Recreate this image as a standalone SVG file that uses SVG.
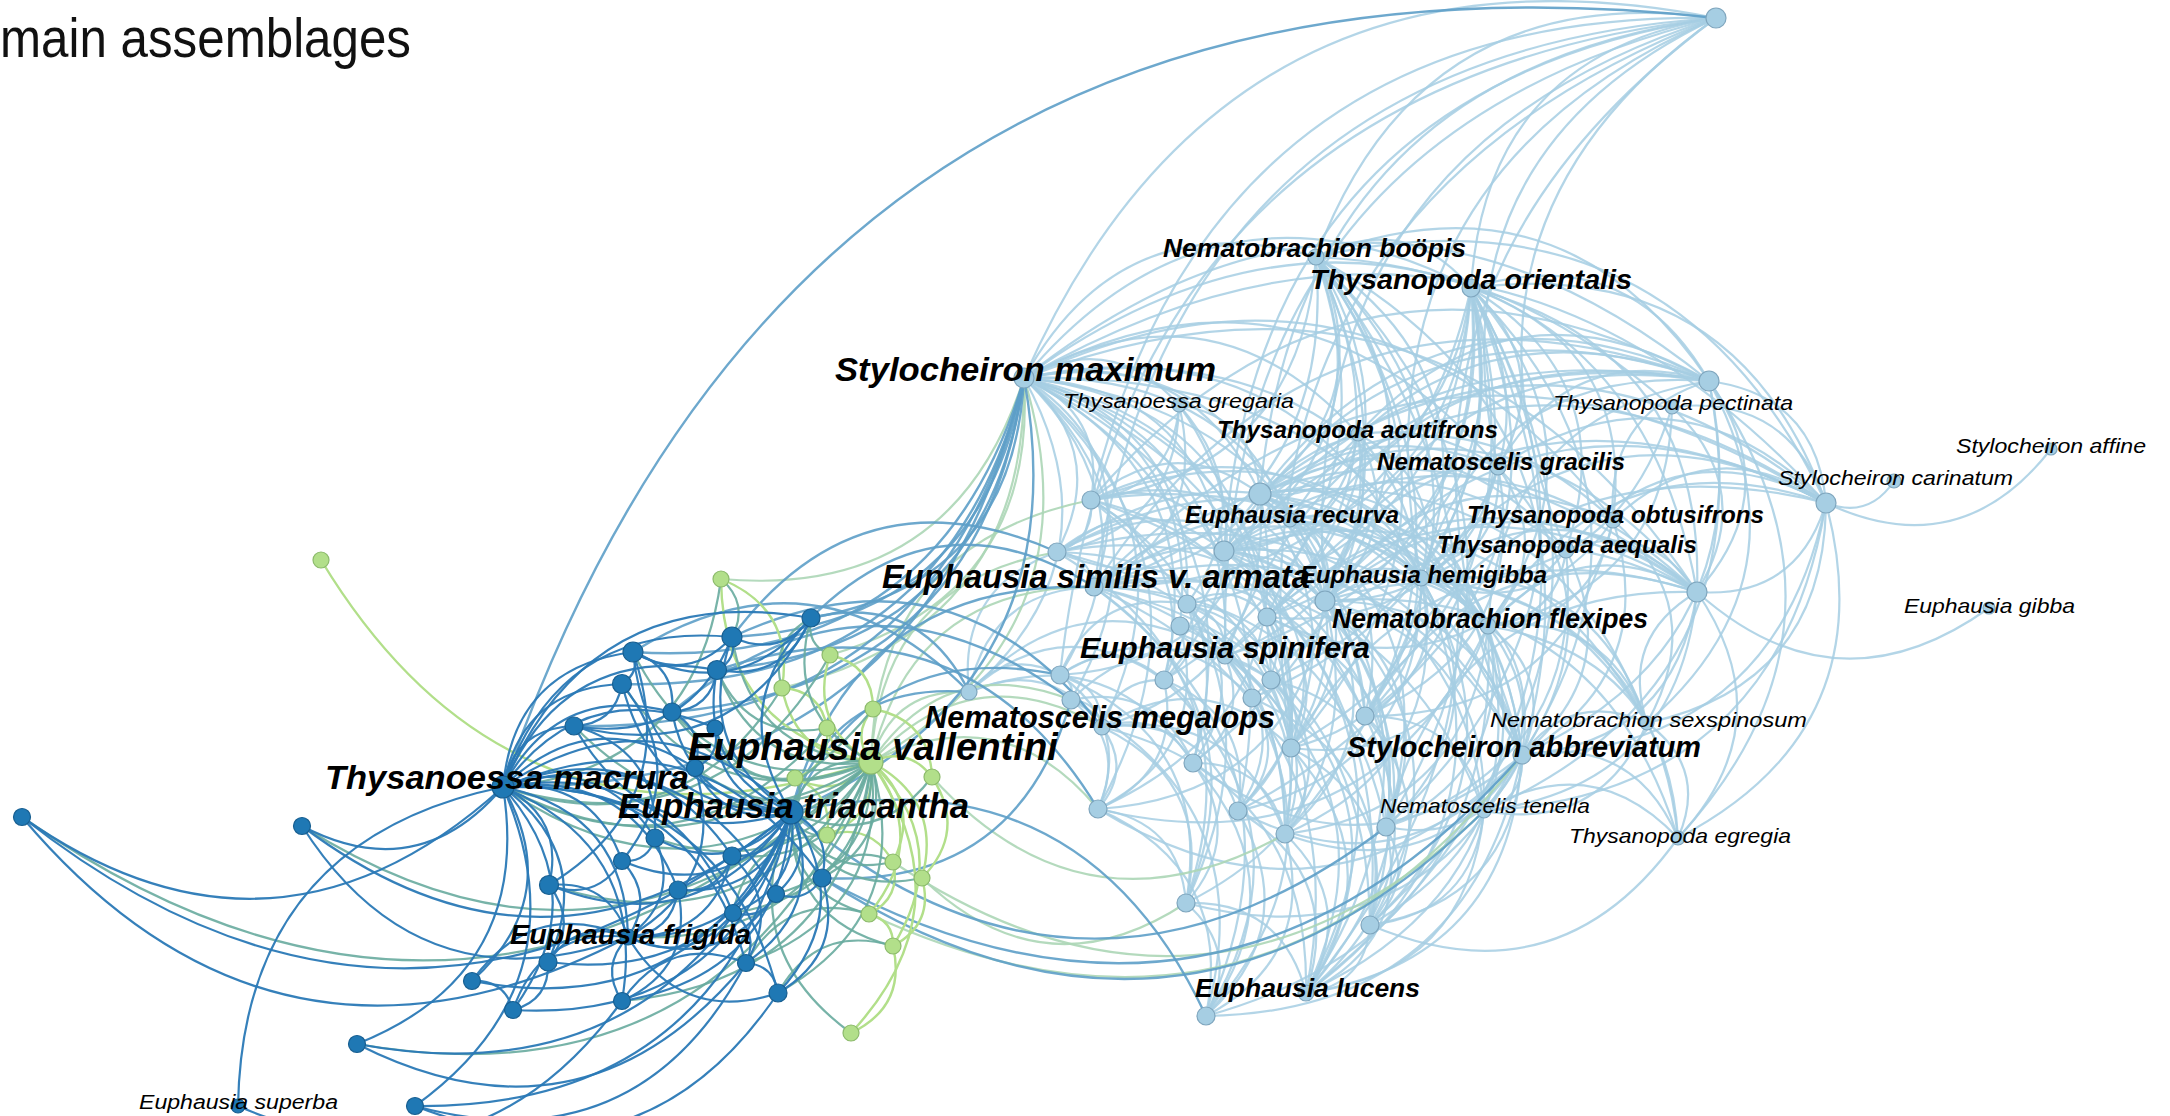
<svg xmlns="http://www.w3.org/2000/svg" xmlns:xlink="http://www.w3.org/1999/xlink" width="2170" height="1116" viewBox="0 0 2170 1116">
<style>
.lb{stroke:#a6cee3;stroke-width:2.2;stroke-opacity:.85}
.db{stroke:#2a79b6;stroke-width:2.2;stroke-opacity:.95}
.dg{stroke:#68ab9f;stroke-width:2.2;stroke-opacity:.9}
.dl{stroke:#5d9ec8;stroke-width:2.4;stroke-opacity:.9}
.gl{stroke:#acd6b6;stroke-width:2.2;stroke-opacity:.9}
.gr{stroke:#b2df8a;stroke-width:2.4}
.nd circle{fill:#1f78b4;stroke:#185f91;stroke-width:1.2}
.ng circle{fill:#b2df8a;stroke:#8cba6c;stroke-width:1.2}
.nl circle{fill:#a6cee3;stroke:#7fa6be;stroke-width:1.2}
text{font-family:"Liberation Sans",Arial,sans-serif;font-style:italic;fill:#000}
.b{font-weight:bold}
.r{font-weight:normal}
.title{font-style:normal;font-size:56px;fill:#111}
</style>
<defs>
<path id="c" d="M0,0Q.5,-.4,1,0" fill="none" vector-effect="non-scaling-stroke"/>
</defs>
<text class="title" x="0" y="57" textLength="411" lengthAdjust="spacingAndGlyphs">main assemblages</text>
<g id="connectors">
<g class="lb">
<use href="#c" transform="matrix(692 -360 360 692 1024 378)"/>
<use href="#c" transform="matrix(625 -482 482 625 1091 500)"/>
<use href="#c" transform="matrix(622 -569 569 622 1094 587)"/>
<use href="#c" transform="matrix(456 -476 476 456 1260 494)"/>
<use href="#c" transform="matrix(492 -533 533 492 1224 551)"/>
<use href="#c" transform="matrix(391 -583 583 391 1325 601)"/>
<use href="#c" transform="matrix(295 -560 560 295 1421 578)"/>
<use href="#c" transform="matrix(491 -638 638 491 1225 656)"/>
<use href="#c" transform="matrix(656 -657 657 656 1060 675)"/>
<use href="#c" transform="matrix(425 -730 730 425 1291 748)"/>
<use href="#c" transform="matrix(245 -270 270 245 1471 288)"/>
<use href="#c" transform="matrix(400 -239 239 400 1316 257)"/>
<use href="#c" transform="matrix(218 -449 449 218 1498 467)"/>
<use href="#c" transform="matrix(150 -532 532 150 1566 550)"/>
<use href="#c" transform="matrix(194 -737 737 194 1522 755)"/>
<use href="#c" transform="matrix(292 -121 121 292 1024 378)"/>
<use href="#c" transform="matrix(447 -90 90 447 1024 378)"/>
<use href="#c" transform="matrix(155 27 -27 155 1024 378)"/>
<use href="#c" transform="matrix(685 3 -3 685 1024 378)"/>
<use href="#c" transform="matrix(648 29 -29 648 1024 378)"/>
<use href="#c" transform="matrix(334 56 -56 334 1024 378)"/>
<use href="#c" transform="matrix(474 89 -89 474 1024 378)"/>
<use href="#c" transform="matrix(802 125 -125 802 1024 378)"/>
<use href="#c" transform="matrix(67 122 -122 67 1024 378)"/>
<use href="#c" transform="matrix(236 116 -116 236 1024 378)"/>
<use href="#c" transform="matrix(266 142 -142 266 1024 378)"/>
<use href="#c" transform="matrix(33 174 -174 33 1024 378)"/>
<use href="#c" transform="matrix(200 173 -173 200 1024 378)"/>
<use href="#c" transform="matrix(70 209 -209 70 1024 378)"/>
<use href="#c" transform="matrix(673 214 -214 673 1024 378)"/>
<use href="#c" transform="matrix(301 223 -223 301 1024 378)"/>
<use href="#c" transform="matrix(163 226 -226 163 1024 378)"/>
<use href="#c" transform="matrix(156 248 -248 156 1024 378)"/>
<use href="#c" transform="matrix(243 239 -239 243 1024 378)"/>
<use href="#c" transform="matrix(201 278 -278 201 1024 378)"/>
<use href="#c" transform="matrix(-55 314 -314 -55 1024 378)"/>
<use href="#c" transform="matrix(36 297 -297 36 1024 378)"/>
<use href="#c" transform="matrix(47 322 -322 47 1024 378)"/>
<use href="#c" transform="matrix(140 302 -302 140 1024 378)"/>
<use href="#c" transform="matrix(247 302 -302 247 1024 378)"/>
<use href="#c" transform="matrix(78 349 -349 78 1024 378)"/>
<use href="#c" transform="matrix(267 370 -370 267 1024 378)"/>
<use href="#c" transform="matrix(169 385 -385 169 1024 378)"/>
<use href="#c" transform="matrix(74 431 -431 74 1024 378)"/>
<use href="#c" transform="matrix(214 433 -433 214 1024 378)"/>
<use href="#c" transform="matrix(498 377 -377 498 1024 378)"/>
<use href="#c" transform="matrix(261 456 -456 261 1024 378)"/>
<use href="#c" transform="matrix(341 338 -338 341 1024 378)"/>
<use href="#c" transform="matrix(397 200 -200 397 1024 378)"/>
<use href="#c" transform="matrix(464 248 -248 464 1024 378)"/>
<use href="#c" transform="matrix(589 142 -142 589 1024 378)"/>
<use href="#c" transform="matrix(155 31 -31 155 1316 257)"/>
<use href="#c" transform="matrix(393 124 -124 393 1316 257)"/>
<use href="#c" transform="matrix(510 246 -246 510 1316 257)"/>
<use href="#c" transform="matrix(381 335 -335 381 1316 257)"/>
<use href="#c" transform="matrix(-56 237 -237 -56 1316 257)"/>
<use href="#c" transform="matrix(-92 294 -294 -92 1316 257)"/>
<use href="#c" transform="matrix(9 344 -344 9 1316 257)"/>
<use href="#c" transform="matrix(-49 360 -360 -49 1316 257)"/>
<use href="#c" transform="matrix(-222 330 -330 -222 1316 257)"/>
<use href="#c" transform="matrix(-91 399 -399 -91 1316 257)"/>
<use href="#c" transform="matrix(-25 491 -491 -25 1316 257)"/>
<use href="#c" transform="matrix(-123 506 -506 -123 1316 257)"/>
<use href="#c" transform="matrix(206 498 -498 206 1316 257)"/>
<use href="#c" transform="matrix(-31 577 -577 -31 1316 257)"/>
<use href="#c" transform="matrix(-10 736 -736 -10 1316 257)"/>
<use href="#c" transform="matrix(-225 243 -243 -225 1316 257)"/>
<use href="#c" transform="matrix(-152 423 -423 -152 1316 257)"/>
<use href="#c" transform="matrix(105 321 -321 105 1316 257)"/>
<use href="#c" transform="matrix(49 459 -459 49 1316 257)"/>
<use href="#c" transform="matrix(70 570 -570 70 1316 257)"/>
<use href="#c" transform="matrix(238 93 -93 238 1471 288)"/>
<use href="#c" transform="matrix(355 215 -215 355 1471 288)"/>
<use href="#c" transform="matrix(226 304 -304 226 1471 288)"/>
<use href="#c" transform="matrix(-211 206 -206 -211 1471 288)"/>
<use href="#c" transform="matrix(-247 263 -263 -247 1471 288)"/>
<use href="#c" transform="matrix(-146 313 -313 -146 1471 288)"/>
<use href="#c" transform="matrix(-204 329 -329 -204 1471 288)"/>
<use href="#c" transform="matrix(-200 392 -392 -200 1471 288)"/>
<use href="#c" transform="matrix(-219 410 -410 -219 1471 288)"/>
<use href="#c" transform="matrix(-106 428 -428 -106 1471 288)"/>
<use href="#c" transform="matrix(17 338 -338 17 1471 288)"/>
<use href="#c" transform="matrix(51 467 -467 51 1471 288)"/>
<use href="#c" transform="matrix(-50 290 -290 -50 1471 288)"/>
<use href="#c" transform="matrix(95 262 -262 95 1471 288)"/>
<use href="#c" transform="matrix(-180 460 -460 -180 1471 288)"/>
<use href="#c" transform="matrix(-233 523 -523 -233 1471 288)"/>
<use href="#c" transform="matrix(-85 539 -539 -85 1471 288)"/>
<use href="#c" transform="matrix(-165 705 -705 -165 1471 288)"/>
<use href="#c" transform="matrix(-101 637 -637 -101 1471 288)"/>
<use href="#c" transform="matrix(27 179 -179 27 1471 288)"/>
<use href="#c" transform="matrix(-377 299 -299 -377 1471 288)"/>
<use href="#c" transform="matrix(-246 368 -368 -246 1471 288)"/>
<use href="#c" transform="matrix(-284 316 -316 -284 1471 288)"/>
<use href="#c" transform="matrix(142 232 -232 142 1471 288)"/>
<use href="#c" transform="matrix(117 122 -122 117 1709 381)"/>
<use href="#c" transform="matrix(-12 211 -211 -12 1709 381)"/>
<use href="#c" transform="matrix(449 -113 113 449 1260 494)"/>
<use href="#c" transform="matrix(485 -170 170 485 1224 551)"/>
<use href="#c" transform="matrix(384 -220 220 384 1325 601)"/>
<use href="#c" transform="matrix(442 -236 236 442 1267 617)"/>
<use href="#c" transform="matrix(615 -206 206 615 1094 587)"/>
<use href="#c" transform="matrix(618 -119 119 618 1091 500)"/>
<use href="#c" transform="matrix(545 -299 299 545 1164 680)"/>
<use href="#c" transform="matrix(221 -245 245 221 1488 626)"/>
<use href="#c" transform="matrix(-187 374 -374 -187 1709 381)"/>
<use href="#c" transform="matrix(288 -197 197 288 1421 578)"/>
<use href="#c" transform="matrix(96 -139 139 96 1613 520)"/>
<use href="#c" transform="matrix(211 -86 86 211 1498 467)"/>
<use href="#c" transform="matrix(419 -139 139 419 1290 520)"/>
<use href="#c" transform="matrix(351 -53 53 351 1358 434)"/>
<use href="#c" transform="matrix(154 96 -96 154 1672 407)"/>
<use href="#c" transform="matrix(484 -275 275 484 1225 656)"/>
<use href="#c" transform="matrix(-62 342 -342 -62 1709 381)"/>
<use href="#c" transform="matrix(-225 430 -430 -225 1709 381)"/>
<use href="#c" transform="matrix(-31 457 -457 -31 1709 381)"/>
<use href="#c" transform="matrix(-68 22 -22 -68 1894 481)"/>
<use href="#c" transform="matrix(-225 54 -54 -225 2051 449)"/>
<use href="#c" transform="matrix(-292 -16 16 -292 1989 608)"/>
<use href="#c" transform="matrix(-129 89 -89 -129 1826 503)"/>
<use href="#c" transform="matrix(566 9 -9 566 1260 494)"/>
<use href="#c" transform="matrix(602 -48 48 602 1224 551)"/>
<use href="#c" transform="matrix(501 -98 98 501 1325 601)"/>
<use href="#c" transform="matrix(405 -75 75 405 1421 578)"/>
<use href="#c" transform="matrix(338 -123 123 338 1488 626)"/>
<use href="#c" transform="matrix(328 36 -36 328 1498 467)"/>
<use href="#c" transform="matrix(213 -17 17 213 1613 520)"/>
<use href="#c" transform="matrix(260 -47 47 260 1566 550)"/>
<use href="#c" transform="matrix(-304 252 -252 -304 1826 503)"/>
<use href="#c" transform="matrix(559 -114 114 559 1267 617)"/>
<use href="#c" transform="matrix(732 -84 84 732 1094 587)"/>
<use href="#c" transform="matrix(461 -213 213 461 1365 716)"/>
<use href="#c" transform="matrix(-342 308 -308 -342 1826 503)"/>
<use href="#c" transform="matrix(-179 220 -220 -179 1826 503)"/>
<use href="#c" transform="matrix(-148 335 -335 -148 1826 503)"/>
<use href="#c" transform="matrix(437 98 -98 437 1260 494)"/>
<use href="#c" transform="matrix(473 41 -41 473 1224 551)"/>
<use href="#c" transform="matrix(372 -9 9 372 1325 601)"/>
<use href="#c" transform="matrix(430 -25 25 430 1267 617)"/>
<use href="#c" transform="matrix(276 14 -14 276 1421 578)"/>
<use href="#c" transform="matrix(209 -34 34 209 1488 626)"/>
<use href="#c" transform="matrix(-175 163 -163 -175 1697 592)"/>
<use href="#c" transform="matrix(50 -131 131 50 1647 723)"/>
<use href="#c" transform="matrix(-19 246 -246 -19 1697 592)"/>
<use href="#c" transform="matrix(332 -124 124 332 1365 716)"/>
<use href="#c" transform="matrix(311 -235 235 311 1386 827)"/>
<use href="#c" transform="matrix(406 -156 156 406 1291 748)"/>
<use href="#c" transform="matrix(472 -64 64 472 1225 656)"/>
<use href="#c" transform="matrix(603 5 -5 603 1094 587)"/>
<use href="#c" transform="matrix(-213 219 -219 -213 1697 592)"/>
<use href="#c" transform="matrix(426 -88 88 426 1271 680)"/>
<use href="#c" transform="matrix(131 42 -42 131 1566 550)"/>
<use href="#c" transform="matrix(169 -6 6 169 1091 500)"/>
<use href="#c" transform="matrix(133 51 -51 133 1091 500)"/>
<use href="#c" transform="matrix(234 101 -101 234 1091 500)"/>
<use href="#c" transform="matrix(330 78 -78 330 1091 500)"/>
<use href="#c" transform="matrix(397 126 -126 397 1091 500)"/>
<use href="#c" transform="matrix(431 255 -255 431 1091 500)"/>
<use href="#c" transform="matrix(-34 52 -52 -34 1091 500)"/>
<use href="#c" transform="matrix(200 248 -248 200 1091 500)"/>
<use href="#c" transform="matrix(102 263 -263 102 1091 500)"/>
<use href="#c" transform="matrix(73 180 -180 73 1091 500)"/>
<use href="#c" transform="matrix(279 425 -425 279 1091 500)"/>
<use href="#c" transform="matrix(95 403 -403 95 1091 500)"/>
<use href="#c" transform="matrix(65 107 -107 65 1260 494)"/>
<use href="#c" transform="matrix(161 84 -84 161 1260 494)"/>
<use href="#c" transform="matrix(228 132 -132 228 1260 494)"/>
<use href="#c" transform="matrix(262 261 -261 262 1260 494)"/>
<use href="#c" transform="matrix(105 222 -222 105 1260 494)"/>
<use href="#c" transform="matrix(31 254 -254 31 1260 494)"/>
<use href="#c" transform="matrix(-22 317 -317 -22 1260 494)"/>
<use href="#c" transform="matrix(46 499 -499 46 1260 494)"/>
<use href="#c" transform="matrix(126 333 -333 126 1260 494)"/>
<use href="#c" transform="matrix(387 229 -229 387 1260 494)"/>
<use href="#c" transform="matrix(238 -27 27 238 1260 494)"/>
<use href="#c" transform="matrix(306 56 -56 306 1260 494)"/>
<use href="#c" transform="matrix(353 26 -26 353 1260 494)"/>
<use href="#c" transform="matrix(-203 58 -58 -203 1260 494)"/>
<use href="#c" transform="matrix(-200 181 -181 -200 1260 494)"/>
<use href="#c" transform="matrix(-158 233 -233 -158 1260 494)"/>
<use href="#c" transform="matrix(-162 315 -315 -162 1260 494)"/>
<use href="#c" transform="matrix(37 35 -35 37 1057 552)"/>
<use href="#c" transform="matrix(167 -1 1 167 1057 552)"/>
<use href="#c" transform="matrix(268 49 -49 268 1057 552)"/>
<use href="#c" transform="matrix(364 26 -26 364 1057 552)"/>
<use href="#c" transform="matrix(431 74 -74 431 1057 552)"/>
<use href="#c" transform="matrix(234 196 -196 234 1057 552)"/>
<use href="#c" transform="matrix(308 164 -164 308 1057 552)"/>
<use href="#c" transform="matrix(465 203 -203 465 1057 552)"/>
<use href="#c" transform="matrix(129 351 -351 129 1057 552)"/>
<use href="#c" transform="matrix(228 282 -282 228 1057 552)"/>
<use href="#c" transform="matrix(101 50 -50 101 1224 551)"/>
<use href="#c" transform="matrix(197 27 -27 197 1224 551)"/>
<use href="#c" transform="matrix(264 75 -75 264 1224 551)"/>
<use href="#c" transform="matrix(298 204 -204 298 1224 551)"/>
<use href="#c" transform="matrix(67 197 -197 67 1224 551)"/>
<use href="#c" transform="matrix(141 165 -165 141 1224 551)"/>
<use href="#c" transform="matrix(260 260 -260 260 1224 551)"/>
<use href="#c" transform="matrix(162 276 -276 162 1224 551)"/>
<use href="#c" transform="matrix(82 442 -442 82 1224 551)"/>
<use href="#c" transform="matrix(146 374 -374 146 1224 551)"/>
<use href="#c" transform="matrix(423 172 -172 423 1224 551)"/>
<use href="#c" transform="matrix(342 -1 1 342 1224 551)"/>
<use href="#c" transform="matrix(274 -84 84 274 1224 551)"/>
<use href="#c" transform="matrix(231 14 -14 231 1094 587)"/>
<use href="#c" transform="matrix(327 -9 9 327 1094 587)"/>
<use href="#c" transform="matrix(394 39 -39 394 1094 587)"/>
<use href="#c" transform="matrix(428 168 -168 428 1094 587)"/>
<use href="#c" transform="matrix(271 129 -129 271 1094 587)"/>
<use href="#c" transform="matrix(197 161 -161 197 1094 587)"/>
<use href="#c" transform="matrix(191 247 -247 191 1094 587)"/>
<use href="#c" transform="matrix(292 240 -240 292 1094 587)"/>
<use href="#c" transform="matrix(390 224 -224 390 1094 587)"/>
<use href="#c" transform="matrix(212 406 -406 212 1094 587)"/>
<use href="#c" transform="matrix(112 429 -429 112 1094 587)"/>
<use href="#c" transform="matrix(92 316 -316 92 1094 587)"/>
<use href="#c" transform="matrix(276 338 -338 276 1094 587)"/>
<use href="#c" transform="matrix(96 -23 23 96 1325 601)"/>
<use href="#c" transform="matrix(163 25 -25 163 1325 601)"/>
<use href="#c" transform="matrix(197 154 -154 197 1325 601)"/>
<use href="#c" transform="matrix(322 122 -122 322 1325 601)"/>
<use href="#c" transform="matrix(353 237 -237 353 1325 601)"/>
<use href="#c" transform="matrix(159 210 -210 159 1325 601)"/>
<use href="#c" transform="matrix(61 226 -226 61 1325 601)"/>
<use href="#c" transform="matrix(-19 392 -392 -19 1325 601)"/>
<use href="#c" transform="matrix(45 324 -324 45 1325 601)"/>
<use href="#c" transform="matrix(-40 233 -233 -40 1325 601)"/>
<use href="#c" transform="matrix(-227 208 -208 -227 1325 601)"/>
<use href="#c" transform="matrix(-139 302 -302 -139 1325 601)"/>
<use href="#c" transform="matrix(173 -134 134 173 1325 601)"/>
<use href="#c" transform="matrix(288 -81 81 288 1325 601)"/>
<use href="#c" transform="matrix(67 48 -48 67 1421 578)"/>
<use href="#c" transform="matrix(101 177 -177 101 1421 578)"/>
<use href="#c" transform="matrix(-56 138 -138 -56 1421 578)"/>
<use href="#c" transform="matrix(-35 249 -249 -35 1421 578)"/>
<use href="#c" transform="matrix(226 145 -145 226 1421 578)"/>
<use href="#c" transform="matrix(257 260 -260 257 1421 578)"/>
<use href="#c" transform="matrix(-51 347 -347 -51 1421 578)"/>
<use href="#c" transform="matrix(-115 415 -415 -115 1421 578)"/>
<use href="#c" transform="matrix(-130 170 -170 -130 1421 578)"/>
<use href="#c" transform="matrix(-183 233 -233 -183 1421 578)"/>
<use href="#c" transform="matrix(-136 256 -256 -136 1421 578)"/>
<use href="#c" transform="matrix(34 129 -129 34 1488 626)"/>
<use href="#c" transform="matrix(159 97 -97 159 1488 626)"/>
<use href="#c" transform="matrix(190 212 -212 190 1488 626)"/>
<use href="#c" transform="matrix(-4 185 -185 -4 1488 626)"/>
<use href="#c" transform="matrix(-102 201 -201 -102 1488 626)"/>
<use href="#c" transform="matrix(-118 299 -299 -118 1488 626)"/>
<use href="#c" transform="matrix(-182 367 -367 -182 1488 626)"/>
<use href="#c" transform="matrix(-282 390 -390 -282 1488 626)"/>
<use href="#c" transform="matrix(-197 122 -122 -197 1488 626)"/>
<use href="#c" transform="matrix(-390 183 -183 -390 1488 626)"/>
<use href="#c" transform="matrix(-203 208 -208 -203 1488 626)"/>
<use href="#c" transform="matrix(-38 56 -56 -38 1522 755)"/>
<use href="#c" transform="matrix(156 83 -83 156 1522 755)"/>
<use href="#c" transform="matrix(125 -32 32 125 1522 755)"/>
<use href="#c" transform="matrix(-136 72 -72 -136 1522 755)"/>
<use href="#c" transform="matrix(-152 170 -170 -152 1522 755)"/>
<use href="#c" transform="matrix(-216 238 -238 -216 1522 755)"/>
<use href="#c" transform="matrix(-316 261 -261 -316 1522 755)"/>
<use href="#c" transform="matrix(-237 79 -79 -237 1522 755)"/>
<use href="#c" transform="matrix(-284 56 -56 -284 1522 755)"/>
<use href="#c" transform="matrix(-329 8 -8 -329 1522 755)"/>
<use href="#c" transform="matrix(-424 54 -54 -424 1522 755)"/>
<use href="#c" transform="matrix(-336 148 -148 -336 1522 755)"/>
<use href="#c" transform="matrix(-23 76 -76 -23 1187 604)"/>
<use href="#c" transform="matrix(80 13 -13 80 1187 604)"/>
<use href="#c" transform="matrix(84 76 -76 84 1187 604)"/>
<use href="#c" transform="matrix(38 52 -52 38 1187 604)"/>
<use href="#c" transform="matrix(104 144 -144 104 1187 604)"/>
<use href="#c" transform="matrix(6 159 -159 6 1187 604)"/>
<use href="#c" transform="matrix(45 30 -30 45 1180 626)"/>
<use href="#c" transform="matrix(72 72 -72 72 1180 626)"/>
<use href="#c" transform="matrix(105 208 -208 105 1180 626)"/>
<use href="#c" transform="matrix(-82 183 -183 -82 1180 626)"/>
<use href="#c" transform="matrix(-15 81 -81 -15 1267 617)"/>
<use href="#c" transform="matrix(24 131 -131 24 1267 617)"/>
<use href="#c" transform="matrix(-29 194 -194 -29 1267 617)"/>
<use href="#c" transform="matrix(119 210 -210 119 1267 617)"/>
<use href="#c" transform="matrix(66 92 -92 66 1225 656)"/>
<use href="#c" transform="matrix(-32 107 -107 -32 1225 656)"/>
<use href="#c" transform="matrix(13 155 -155 13 1225 656)"/>
<use href="#c" transform="matrix(60 178 -178 60 1225 656)"/>
<use href="#c" transform="matrix(81 337 -337 81 1225 656)"/>
<use href="#c" transform="matrix(-19 360 -360 -19 1225 656)"/>
<use href="#c" transform="matrix(29 83 -83 29 1164 680)"/>
<use href="#c" transform="matrix(-66 129 -129 -66 1164 680)"/>
<use href="#c" transform="matrix(74 131 -131 74 1164 680)"/>
<use href="#c" transform="matrix(42 336 -336 42 1164 680)"/>
<use href="#c" transform="matrix(20 68 -68 20 1271 680)"/>
<use href="#c" transform="matrix(14 154 -154 14 1271 680)"/>
<use href="#c" transform="matrix(115 147 -147 115 1271 680)"/>
<use href="#c" transform="matrix(35 313 -313 35 1271 680)"/>
<use href="#c" transform="matrix(-14 113 -113 -14 1252 698)"/>
<use href="#c" transform="matrix(118 227 -227 118 1252 698)"/>
<use href="#c" transform="matrix(21 111 -111 21 1365 716)"/>
<use href="#c" transform="matrix(5 209 -209 5 1365 716)"/>
<use href="#c" transform="matrix(119 95 -95 119 1365 716)"/>
<use href="#c" transform="matrix(-59 277 -277 -59 1365 716)"/>
<use href="#c" transform="matrix(-6 86 -86 -6 1291 748)"/>
<use href="#c" transform="matrix(79 177 -177 79 1291 748)"/>
<use href="#c" transform="matrix(15 245 -245 15 1291 748)"/>
<use href="#c" transform="matrix(-7 140 -140 -7 1193 763)"/>
<use href="#c" transform="matrix(13 253 -253 13 1193 763)"/>
<use href="#c" transform="matrix(92 71 -71 92 1193 763)"/>
<use href="#c" transform="matrix(88 94 -94 88 1098 809)"/>
<use href="#c" transform="matrix(108 207 -207 108 1098 809)"/>
<use href="#c" transform="matrix(-32 205 -205 -32 1238 811)"/>
<use href="#c" transform="matrix(68 182 -182 68 1238 811)"/>
<use href="#c" transform="matrix(21 159 -159 21 1285 834)"/>
<use href="#c" transform="matrix(-79 182 -182 -79 1285 834)"/>
<use href="#c" transform="matrix(-80 166 -166 -80 1386 827)"/>
<use href="#c" transform="matrix(-16 98 -98 -16 1386 827)"/>
<use href="#c" transform="matrix(120 90 -90 120 1186 903)"/>
<use href="#c" transform="matrix(20 113 -113 20 1186 903)"/>
<use href="#c" transform="matrix(-64 68 -68 -64 1370 925)"/>
<use href="#c" transform="matrix(-308 87 -87 -308 1678 838)"/>
<use href="#c" transform="matrix(194 27 -27 194 1484 811)"/>
<use href="#c" transform="matrix(-114 114 -114 -114 1484 811)"/>
<use href="#c" transform="matrix(-178 182 -182 -178 1484 811)"/>
<use href="#c" transform="matrix(91 -17 17 91 969 692)"/>
<use href="#c" transform="matrix(125 -105 105 125 969 692)"/>
<use href="#c" transform="matrix(195 -12 12 195 969 692)"/>
<use href="#c" transform="matrix(133 35 -35 133 969 692)"/>
<use href="#c" transform="matrix(224 71 -71 224 969 692)"/>
<use href="#c" transform="matrix(88 -140 140 88 969 692)"/>
<use href="#c" transform="matrix(256 -36 36 256 969 692)"/>
<use href="#c" transform="matrix(11 25 -25 11 1060 675)"/>
<use href="#c" transform="matrix(42 52 -52 42 1060 675)"/>
<use href="#c" transform="matrix(104 5 -5 104 1060 675)"/>
<use href="#c" transform="matrix(127 -71 71 127 1060 675)"/>
<use href="#c" transform="matrix(38 134 -134 38 1060 675)"/>
<use href="#c" transform="matrix(126 228 -228 126 1060 675)"/>
<use href="#c" transform="matrix(192 23 -23 192 1060 675)"/>
<use href="#c" transform="matrix(31 27 -27 31 1071 700)"/>
<use href="#c" transform="matrix(122 63 -63 122 1071 700)"/>
<use href="#c" transform="matrix(27 109 -109 27 1071 700)"/>
<use href="#c" transform="matrix(200 -20 20 200 1071 700)"/>
<use href="#c" transform="matrix(135 316 -316 135 1071 700)"/>
<use href="#c" transform="matrix(62 -47 47 62 1102 727)"/>
<use href="#c" transform="matrix(91 36 -36 91 1102 727)"/>
<use href="#c" transform="matrix(-4 82 -82 -4 1102 727)"/>
<use href="#c" transform="matrix(136 84 -84 136 1102 727)"/>
<use href="#c" transform="matrix(84 176 -176 84 1102 727)"/>
<use href="#c" transform="matrix(189 21 -21 189 1102 727)"/>
<use href="#c" transform="matrix(183 107 -107 183 1102 727)"/>
<use href="#c" transform="matrix(204 266 -266 204 1102 727)"/>
<use href="#c" transform="matrix(-88 95 -95 -88 1179 405)"/>
<use href="#c" transform="matrix(81 89 -89 81 1179 405)"/>
<use href="#c" transform="matrix(-122 147 -147 -122 1179 405)"/>
<use href="#c" transform="matrix(-85 182 -182 -85 1179 405)"/>
<use href="#c" transform="matrix(8 199 -199 8 1179 405)"/>
<use href="#c" transform="matrix(-15 275 -275 -15 1179 405)"/>
<use href="#c" transform="matrix(-98 60 -60 -98 1358 434)"/>
<use href="#c" transform="matrix(-134 117 -117 -134 1358 434)"/>
<use href="#c" transform="matrix(-33 167 -167 -33 1358 434)"/>
<use href="#c" transform="matrix(63 144 -144 63 1358 434)"/>
<use href="#c" transform="matrix(-91 183 -183 -91 1358 434)"/>
<use href="#c" transform="matrix(-133 222 -222 -133 1358 434)"/>
<use href="#c" transform="matrix(7 282 -282 7 1358 434)"/>
<use href="#c" transform="matrix(-77 111 -111 -77 1498 467)"/>
<use href="#c" transform="matrix(-173 134 -134 -173 1498 467)"/>
<use href="#c" transform="matrix(-10 159 -159 -10 1498 467)"/>
<use href="#c" transform="matrix(24 288 -288 24 1498 467)"/>
<use href="#c" transform="matrix(-133 249 -249 -133 1498 467)"/>
<use href="#c" transform="matrix(-231 150 -150 -231 1498 467)"/>
<use href="#c" transform="matrix(35 81 -81 35 1290 520)"/>
<use href="#c" transform="matrix(131 58 -58 131 1290 520)"/>
<use href="#c" transform="matrix(198 106 -106 198 1290 520)"/>
<use href="#c" transform="matrix(1 228 -228 1 1290 520)"/>
<use href="#c" transform="matrix(232 235 -235 232 1290 520)"/>
<use href="#c" transform="matrix(-192 58 -58 -192 1613 520)"/>
<use href="#c" transform="matrix(-125 106 -106 -125 1613 520)"/>
<use href="#c" transform="matrix(-91 235 -235 -91 1613 520)"/>
<use href="#c" transform="matrix(-248 196 -196 -248 1613 520)"/>
<use href="#c" transform="matrix(34 203 -203 34 1613 520)"/>
<use href="#c" transform="matrix(-78 76 -76 -78 1566 550)"/>
<use href="#c" transform="matrix(-44 205 -205 -44 1566 550)"/>
<use href="#c" transform="matrix(-299 67 -67 -299 1566 550)"/>
<use href="#c" transform="matrix(-180 277 -277 -180 1566 550)"/>
<use href="#c" transform="matrix(25 185 -185 25 1672 407)"/>
<use href="#c" transform="matrix(-251 171 -171 -251 1672 407)"/>
<use href="#c" transform="matrix(-184 219 -219 -184 1672 407)"/>
<use href="#c" transform="matrix(31 115 -115 31 1647 723)"/>
<use href="#c" transform="matrix(-163 88 -88 -163 1647 723)"/>
</g>
<g class="gl">
<use href="#c" transform="matrix(-153 384 -384 -153 1024 378)"/>
<use href="#c" transform="matrix(-303 201 -201 -303 1024 378)"/>
<use href="#c" transform="matrix(-194 277 -277 -194 1024 378)"/>
<use href="#c" transform="matrix(-242 310 -310 -242 1024 378)"/>
<use href="#c" transform="matrix(98 -70 70 98 871 762)"/>
<use href="#c" transform="matrix(200 -62 62 200 871 762)"/>
<use href="#c" transform="matrix(223 -175 175 223 871 762)"/>
<use href="#c" transform="matrix(231 -35 35 231 871 762)"/>
<use href="#c" transform="matrix(227 47 -47 227 871 762)"/>
<use href="#c" transform="matrix(186 -210 210 186 871 762)"/>
<use href="#c" transform="matrix(220 -262 262 220 871 762)"/>
<use href="#c" transform="matrix(-653 159 -159 -653 1522 755)"/>
<use href="#c" transform="matrix(-591 51 -51 -591 1484 811)"/>
<use href="#c" transform="matrix(-353 -57 57 -353 1285 834)"/>
<use href="#c" transform="matrix(-264 -25 25 -264 1186 903)"/>
</g>
<g class="dl">
<use href="#c" transform="matrix(1213 -769 769 1213 503 787)"/>
<use href="#c" transform="matrix(-521 409 -409 -521 1024 378)"/>
<use href="#c" transform="matrix(-213 240 -240 -213 1024 378)"/>
<use href="#c" transform="matrix(-292 259 -259 -292 1024 378)"/>
<use href="#c" transform="matrix(-391 274 -274 -391 1024 378)"/>
<use href="#c" transform="matrix(-307 292 -292 -307 1024 378)"/>
<use href="#c" transform="matrix(-402 306 -306 -402 1024 378)"/>
<use href="#c" transform="matrix(-352 334 -334 -352 1024 378)"/>
<use href="#c" transform="matrix(-450 348 -348 -450 1024 378)"/>
<use href="#c" transform="matrix(-233 434 -434 -233 1024 378)"/>
<use href="#c" transform="matrix(415 204 -204 415 791 812)"/>
<use href="#c" transform="matrix(178 -120 120 178 791 812)"/>
<use href="#c" transform="matrix(269 -137 137 269 791 812)"/>
<use href="#c" transform="matrix(303 -225 225 303 791 812)"/>
<use href="#c" transform="matrix(-662 67 -67 -662 1484 811)"/>
<use href="#c" transform="matrix(-700 123 -123 -700 1522 755)"/>
<use href="#c" transform="matrix(-595 -15 15 -595 1386 827)"/>
<use href="#c" transform="matrix(-249 178 -178 -249 1071 700)"/>
<use href="#c" transform="matrix(158 74 -74 158 811 618)"/>
<use href="#c" transform="matrix(283 -31 31 283 811 618)"/>
<use href="#c" transform="matrix(325 -85 85 325 732 637)"/>
<use href="#c" transform="matrix(336 40 -40 336 633 652)"/>
<use href="#c" transform="matrix(370 90 -90 370 732 637)"/>
<use href="#c" transform="matrix(399 -12 12 399 672 712)"/>
<use href="#c" transform="matrix(381 139 -139 381 717 670)"/>
</g>
<g class="gr">
<use href="#c" transform="matrix(-550 -202 202 -550 871 762)"/>
<use href="#c" transform="matrix(-150 -183 183 -150 871 762)"/>
<use href="#c" transform="matrix(-41 -107 107 -41 871 762)"/>
<use href="#c" transform="matrix(-89 -74 74 -89 871 762)"/>
<use href="#c" transform="matrix(2 -53 53 2 871 762)"/>
<use href="#c" transform="matrix(-44 -34 34 -44 871 762)"/>
<use href="#c" transform="matrix(-76 16 -16 -76 871 762)"/>
<use href="#c" transform="matrix(61 15 -15 61 871 762)"/>
<use href="#c" transform="matrix(-44 73 -73 -44 871 762)"/>
<use href="#c" transform="matrix(22 100 -100 22 871 762)"/>
<use href="#c" transform="matrix(51 116 -116 51 871 762)"/>
<use href="#c" transform="matrix(-2 152 -152 -2 871 762)"/>
<use href="#c" transform="matrix(22 184 -184 22 871 762)"/>
<use href="#c" transform="matrix(-20 271 -271 -20 871 762)"/>
<use href="#c" transform="matrix(61 109 -109 61 721 579)"/>
<use href="#c" transform="matrix(43 54 -54 43 830 655)"/>
<use href="#c" transform="matrix(45 40 -40 45 782 688)"/>
<use href="#c" transform="matrix(-32 50 -50 -32 827 728)"/>
<use href="#c" transform="matrix(-10 101 -101 -10 932 777)"/>
<use href="#c" transform="matrix(66 27 -27 66 827 835)"/>
<use href="#c" transform="matrix(-24 52 -52 -24 893 862)"/>
<use href="#c" transform="matrix(24 32 -32 24 869 914)"/>
<use href="#c" transform="matrix(-42 87 -87 -42 893 946)"/>
<use href="#c" transform="matrix(-29 68 -68 -29 922 878)"/>
<use href="#c" transform="matrix(59 68 -68 59 873 709)"/>
<use href="#c" transform="matrix(32 57 -57 32 795 778)"/>
</g>
<g class="dg">
<use href="#c" transform="matrix(-218 208 -208 -218 721 579)"/>
<use href="#c" transform="matrix(-368 25 -25 -368 871 762)"/>
<use href="#c" transform="matrix(80 -50 50 80 791 812)"/>
<use href="#c" transform="matrix(-60 -144 144 -60 871 762)"/>
<use href="#c" transform="matrix(-139 -125 125 -139 871 762)"/>
<use href="#c" transform="matrix(-238 -110 110 -238 871 762)"/>
<use href="#c" transform="matrix(-154 -92 92 -154 871 762)"/>
<use href="#c" transform="matrix(-249 -78 78 -249 871 762)"/>
<use href="#c" transform="matrix(-199 -50 50 -199 871 762)"/>
<use href="#c" transform="matrix(-297 -36 36 -297 871 762)"/>
<use href="#c" transform="matrix(-176 6 -6 -176 871 762)"/>
<use href="#c" transform="matrix(-216 76 -76 -216 871 762)"/>
<use href="#c" transform="matrix(-139 94 -94 -139 871 762)"/>
<use href="#c" transform="matrix(-49 116 -116 -49 871 762)"/>
<use href="#c" transform="matrix(-322 123 -123 -322 871 762)"/>
<use href="#c" transform="matrix(-95 132 -132 -95 871 762)"/>
<use href="#c" transform="matrix(-138 151 -151 -138 871 762)"/>
<use href="#c" transform="matrix(-125 201 -201 -125 871 762)"/>
<use href="#c" transform="matrix(-249 239 -239 -249 871 762)"/>
<use href="#c" transform="matrix(-93 231 -231 -93 871 762)"/>
<use href="#c" transform="matrix(-243 175 -175 -243 871 762)"/>
<use href="#c" transform="matrix(-569 64 -64 -569 871 762)"/>
<use href="#c" transform="matrix(-514 282 -282 -514 871 762)"/>
<use href="#c" transform="matrix(-849 55 -55 -849 871 762)"/>
<use href="#c" transform="matrix(-36 -23 23 -36 827 835)"/>
<use href="#c" transform="matrix(-4 34 -34 -4 795 778)"/>
<use href="#c" transform="matrix(-324 59 -59 -324 827 728)"/>
<use href="#c" transform="matrix(-279 99 -99 -279 782 688)"/>
<use href="#c" transform="matrix(-327 132 -132 -327 830 655)"/>
<use href="#c" transform="matrix(-370 78 -78 -370 873 709)"/>
<use href="#c" transform="matrix(-141 35 -35 -141 932 777)"/>
<use href="#c" transform="matrix(-102 -50 50 -102 893 862)"/>
<use href="#c" transform="matrix(-131 -66 66 -131 922 878)"/>
<use href="#c" transform="matrix(-78 -102 102 -78 869 914)"/>
<use href="#c" transform="matrix(-102 -134 134 -102 893 946)"/>
<use href="#c" transform="matrix(-60 -221 221 -60 851 1033)"/>
<use href="#c" transform="matrix(29 -70 70 29 782 688)"/>
<use href="#c" transform="matrix(-19 -37 37 -19 830 655)"/>
<use href="#c" transform="matrix(11 58 -58 11 721 579)"/>
<use href="#c" transform="matrix(-80 -50 50 -80 795 778)"/>
<use href="#c" transform="matrix(-110 -58 58 -110 827 728)"/>
<use href="#c" transform="matrix(71 -16 16 71 822 878)"/>
<use href="#c" transform="matrix(123 -49 49 123 746 963)"/>
<use href="#c" transform="matrix(115 -47 47 115 778 993)"/>
<use href="#c" transform="matrix(94 -78 78 94 733 913)"/>
</g>
<g class="db">
<use href="#c" transform="matrix(308 -169 169 308 503 787)"/>
<use href="#c" transform="matrix(229 -150 150 229 503 787)"/>
<use href="#c" transform="matrix(130 -135 135 130 503 787)"/>
<use href="#c" transform="matrix(214 -117 117 214 503 787)"/>
<use href="#c" transform="matrix(119 -103 103 119 503 787)"/>
<use href="#c" transform="matrix(169 -75 75 169 503 787)"/>
<use href="#c" transform="matrix(71 -61 61 71 503 787)"/>
<use href="#c" transform="matrix(212 -59 59 212 503 787)"/>
<use href="#c" transform="matrix(192 -19 19 192 503 787)"/>
<use href="#c" transform="matrix(288 25 -25 288 503 787)"/>
<use href="#c" transform="matrix(152 51 -51 152 503 787)"/>
<use href="#c" transform="matrix(119 74 -74 119 503 787)"/>
<use href="#c" transform="matrix(229 69 -69 229 503 787)"/>
<use href="#c" transform="matrix(319 91 -91 319 503 787)"/>
<use href="#c" transform="matrix(46 98 -98 46 503 787)"/>
<use href="#c" transform="matrix(175 103 -103 175 503 787)"/>
<use href="#c" transform="matrix(273 107 -107 273 503 787)"/>
<use href="#c" transform="matrix(230 126 -126 230 503 787)"/>
<use href="#c" transform="matrix(45 175 -175 45 503 787)"/>
<use href="#c" transform="matrix(243 176 -176 243 503 787)"/>
<use href="#c" transform="matrix(-31 194 -194 -31 503 787)"/>
<use href="#c" transform="matrix(10 223 -223 10 503 787)"/>
<use href="#c" transform="matrix(119 214 -214 119 503 787)"/>
<use href="#c" transform="matrix(275 206 -206 275 503 787)"/>
<use href="#c" transform="matrix(125 150 -150 125 503 787)"/>
<use href="#c" transform="matrix(-146 257 -257 -146 503 787)"/>
<use href="#c" transform="matrix(-88 319 -319 -88 503 787)"/>
<use href="#c" transform="matrix(265 -319 319 265 238 1106)"/>
<use href="#c" transform="matrix(-481 30 -30 -481 503 787)"/>
<use href="#c" transform="matrix(-606 -120 120 -606 628 937)"/>
<use href="#c" transform="matrix(-769 5 -5 -769 791 812)"/>
<use href="#c" transform="matrix(-489 14 -14 -489 791 812)"/>
<use href="#c" transform="matrix(-326 -111 111 -326 628 937)"/>
<use href="#c" transform="matrix(-389 81 -81 -389 746 963)"/>
<use href="#c" transform="matrix(-376 294 -294 -376 791 812)"/>
<use href="#c" transform="matrix(-363 113 -113 -363 778 993)"/>
<use href="#c" transform="matrix(-331 143 -143 -331 746 963)"/>
<use href="#c" transform="matrix(-384 105 -105 -384 622 1001)"/>
<use href="#c" transform="matrix(-201 39 -39 -201 503 787)"/>
<use href="#c" transform="matrix(20 -194 194 20 791 812)"/>
<use href="#c" transform="matrix(-59 -175 175 -59 791 812)"/>
<use href="#c" transform="matrix(-158 -160 160 -158 791 812)"/>
<use href="#c" transform="matrix(-74 -142 142 -74 791 812)"/>
<use href="#c" transform="matrix(-169 -128 128 -169 791 812)"/>
<use href="#c" transform="matrix(-119 -100 100 -119 791 812)"/>
<use href="#c" transform="matrix(-217 -86 86 -217 791 812)"/>
<use href="#c" transform="matrix(-76 -84 84 -76 791 812)"/>
<use href="#c" transform="matrix(-96 -44 44 -96 791 812)"/>
<use href="#c" transform="matrix(-136 26 -26 -136 791 812)"/>
<use href="#c" transform="matrix(-169 49 -49 -169 791 812)"/>
<use href="#c" transform="matrix(-59 44 -44 -59 791 812)"/>
<use href="#c" transform="matrix(31 66 -66 31 791 812)"/>
<use href="#c" transform="matrix(-242 73 -73 -242 791 812)"/>
<use href="#c" transform="matrix(-113 78 -78 -113 791 812)"/>
<use href="#c" transform="matrix(-15 82 -82 -15 791 812)"/>
<use href="#c" transform="matrix(-58 101 -101 -58 791 812)"/>
<use href="#c" transform="matrix(-243 150 -150 -243 791 812)"/>
<use href="#c" transform="matrix(-45 151 -151 -45 791 812)"/>
<use href="#c" transform="matrix(-319 169 -169 -319 791 812)"/>
<use href="#c" transform="matrix(-278 198 -198 -278 791 812)"/>
<use href="#c" transform="matrix(-169 189 -189 -169 791 812)"/>
<use href="#c" transform="matrix(-13 181 -181 -13 791 812)"/>
<use href="#c" transform="matrix(-163 125 -125 -163 791 812)"/>
<use href="#c" transform="matrix(-434 232 -232 -434 791 812)"/>
<use href="#c" transform="matrix(-79 19 -19 -79 811 618)"/>
<use href="#c" transform="matrix(-99 15 -15 -99 732 637)"/>
<use href="#c" transform="matrix(-11 32 -32 -11 633 652)"/>
<use href="#c" transform="matrix(-45 42 -42 -45 717 670)"/>
<use href="#c" transform="matrix(-48 42 -42 -48 622 684)"/>
<use href="#c" transform="matrix(-15 33 -33 -15 732 637)"/>
<use href="#c" transform="matrix(-94 52 -52 -94 811 618)"/>
<use href="#c" transform="matrix(23 56 -56 23 672 712)"/>
<use href="#c" transform="matrix(-20 40 -40 -20 715 728)"/>
<use href="#c" transform="matrix(39 60 -60 39 633 652)"/>
<use href="#c" transform="matrix(81 112 -112 81 574 726)"/>
<use href="#c" transform="matrix(0 177 -177 0 622 684)"/>
<use href="#c" transform="matrix(-84 233 -233 -84 633 652)"/>
<use href="#c" transform="matrix(-33 23 -23 -33 655 838)"/>
<use href="#c" transform="matrix(-73 24 -24 -73 622 861)"/>
<use href="#c" transform="matrix(-54 34 -34 -54 732 856)"/>
<use href="#c" transform="matrix(-46 16 -16 -46 822 878)"/>
<use href="#c" transform="matrix(-43 19 -19 -43 776 894)"/>
<use href="#c" transform="matrix(13 50 -50 13 733 913)"/>
<use href="#c" transform="matrix(14 107 -107 14 732 856)"/>
<use href="#c" transform="matrix(-56 111 -111 -56 678 890)"/>
<use href="#c" transform="matrix(-1 77 -77 -1 549 885)"/>
<use href="#c" transform="matrix(-35 48 -48 -35 548 962)"/>
<use href="#c" transform="matrix(41 29 -29 41 472 981)"/>
<use href="#c" transform="matrix(6 -64 64 6 622 1001)"/>
<use href="#c" transform="matrix(32 30 -30 32 746 963)"/>
<use href="#c" transform="matrix(-44 115 -115 -44 822 878)"/>
<use href="#c" transform="matrix(-27 99 -99 -27 655 838)"/>
<use href="#c" transform="matrix(-50 47 -47 -50 678 890)"/>
<use href="#c" transform="matrix(79 52 -52 79 549 885)"/>
<use href="#c" transform="matrix(80 -25 25 80 548 962)"/>
<use href="#c" transform="matrix(156 -44 44 156 472 981)"/>
<use href="#c" transform="matrix(115 -73 73 115 513 1010)"/>
<use href="#c" transform="matrix(124 -38 38 124 622 1001)"/>
<use href="#c" transform="matrix(-105 24 -24 -105 733 913)"/>
<use href="#c" transform="matrix(6 76 -76 6 622 861)"/>
<use href="#c" transform="matrix(-148 43 -43 -148 776 894)"/>
<use href="#c" transform="matrix(-104 81 -81 -104 732 856)"/>
<use href="#c" transform="matrix(-150 -56 56 -150 778 993)"/>
<use href="#c" transform="matrix(-67 169 -169 -67 695 768)"/>
<use href="#c" transform="matrix(-237 108 -108 -237 811 618)"/>
<use href="#c" transform="matrix(-158 89 -89 -158 732 637)"/>
<use href="#c" transform="matrix(-178 34 -34 -178 811 618)"/>
</g>
</g>
<g id="nodes">
<g id="n-top" class="nl"><circle cx="1716" cy="18" r="10"/></g>
<g id="n-b1" class="nl"><circle cx="1091" cy="500" r="9"/></g>
<g id="n-b2" class="nl"><circle cx="1260" cy="494" r="11"/></g>
<g id="n-b3" class="nl"><circle cx="1057" cy="552" r="9"/></g>
<g id="n-b4" class="nl"><circle cx="1224" cy="551" r="10"/></g>
<g id="n-pectinata-hub" class="nl"><circle cx="1709" cy="381" r="10"/></g>
<g id="n-carinatum-hub" class="nl"><circle cx="1826" cy="503" r="10"/></g>
<g id="n-b5" class="nl"><circle cx="1697" cy="592" r="10"/></g>
<g id="n-b6" class="nl"><circle cx="1325" cy="601" r="10"/></g>
<g id="n-b7" class="nl"><circle cx="1187" cy="604" r="9"/></g>
<g id="n-b8" class="nl"><circle cx="1180" cy="626" r="9"/></g>
<g id="n-b9" class="nl"><circle cx="1267" cy="617" r="9"/></g>
<g id="n-b10" class="nl"><circle cx="969" cy="692" r="8"/></g>
<g id="n-b11" class="nl"><circle cx="1060" cy="675" r="9"/></g>
<g id="n-b12" class="nl"><circle cx="1071" cy="700" r="9"/></g>
<g id="n-b13" class="nl"><circle cx="1164" cy="680" r="9"/></g>
<g id="n-b14" class="nl"><circle cx="1271" cy="680" r="9"/></g>
<g id="n-b15" class="nl"><circle cx="1252" cy="698" r="9"/></g>
<g id="n-b16" class="nl"><circle cx="1365" cy="716" r="9"/></g>
<g id="n-b17" class="nl"><circle cx="1291" cy="748" r="9"/></g>
<g id="n-b18" class="nl"><circle cx="1193" cy="763" r="9"/></g>
<g id="n-b19" class="nl"><circle cx="1098" cy="809" r="9"/></g>
<g id="n-b20" class="nl"><circle cx="1238" cy="811" r="9"/></g>
<g id="n-b21" class="nl"><circle cx="1285" cy="834" r="9"/></g>
<g id="n-b22" class="nl"><circle cx="1386" cy="827" r="9"/></g>
<g id="n-b23" class="nl"><circle cx="1186" cy="903" r="9"/></g>
<g id="n-b24" class="nl"><circle cx="1370" cy="925" r="9"/></g>
<g id="n-b25" class="nl"><circle cx="1206" cy="1016" r="9"/></g>
<g id="n-d1" class="nd"><circle cx="811" cy="618" r="9"/></g>
<g id="n-d2" class="nd"><circle cx="732" cy="637" r="10"/></g>
<g id="n-d3" class="nd"><circle cx="633" cy="652" r="10"/></g>
<g id="n-d4" class="nd"><circle cx="717" cy="670" r="9.5"/></g>
<g id="n-d5" class="nd"><circle cx="622" cy="684" r="9.5"/></g>
<g id="n-d6" class="nd"><circle cx="672" cy="712" r="9"/></g>
<g id="n-d7" class="nd"><circle cx="574" cy="726" r="9"/></g>
<g id="n-d8" class="nd"><circle cx="715" cy="728" r="8"/></g>
<g id="n-d9" class="nd"><circle cx="695" cy="768" r="8.5"/></g>
<g id="n-d10" class="nd"><circle cx="655" cy="838" r="9"/></g>
<g id="n-d11" class="nd"><circle cx="622" cy="861" r="8.5"/></g>
<g id="n-d12" class="nd"><circle cx="732" cy="856" r="9"/></g>
<g id="n-d13" class="nd"><circle cx="822" cy="878" r="9"/></g>
<g id="n-d14" class="nd"><circle cx="549" cy="885" r="9.5"/></g>
<g id="n-d15" class="nd"><circle cx="678" cy="890" r="9"/></g>
<g id="n-d16" class="nd"><circle cx="776" cy="894" r="8.5"/></g>
<g id="n-d17" class="nd"><circle cx="733" cy="913" r="8.5"/></g>
<g id="n-d18" class="nd"><circle cx="548" cy="962" r="9"/></g>
<g id="n-d19" class="nd"><circle cx="746" cy="963" r="8.5"/></g>
<g id="n-d20" class="nd"><circle cx="472" cy="981" r="8.5"/></g>
<g id="n-d21" class="nd"><circle cx="513" cy="1010" r="8.5"/></g>
<g id="n-d22" class="nd"><circle cx="622" cy="1001" r="8.5"/></g>
<g id="n-d23" class="nd"><circle cx="778" cy="993" r="9"/></g>
<g id="n-d24" class="nd"><circle cx="357" cy="1044" r="8.5"/></g>
<g id="n-d25" class="nd"><circle cx="415" cy="1106" r="8.5"/></g>
<g id="n-d27" class="nd"><circle cx="22" cy="817" r="8.5"/></g>
<g id="n-d28" class="nd"><circle cx="302" cy="826" r="8.5"/></g>
<g id="n-g1" class="ng"><circle cx="321" cy="560" r="8"/></g>
<g id="n-g2" class="ng"><circle cx="721" cy="579" r="8"/></g>
<g id="n-g3" class="ng"><circle cx="830" cy="655" r="8"/></g>
<g id="n-g4" class="ng"><circle cx="782" cy="688" r="8"/></g>
<g id="n-g5" class="ng"><circle cx="873" cy="709" r="8"/></g>
<g id="n-g6" class="ng"><circle cx="827" cy="728" r="8"/></g>
<g id="n-g7" class="ng"><circle cx="795" cy="778" r="8"/></g>
<g id="n-g8" class="ng"><circle cx="932" cy="777" r="8"/></g>
<g id="n-g9" class="ng"><circle cx="827" cy="835" r="8"/></g>
<g id="n-g10" class="ng"><circle cx="893" cy="862" r="8"/></g>
<g id="n-g11" class="ng"><circle cx="922" cy="878" r="8"/></g>
<g id="n-g12" class="ng"><circle cx="869" cy="914" r="8"/></g>
<g id="n-g13" class="ng"><circle cx="893" cy="946" r="8"/></g>
<g id="n-g14" class="ng"><circle cx="851" cy="1033" r="8"/></g>
<g id="n-boopis" class="nl"><circle cx="1316" cy="257" r="8"/><text class="b" x="1163" y="257" font-size="26" textLength="303" lengthAdjust="spacingAndGlyphs">Nematobrachion boöpis</text></g>
<g id="n-orientalis" class="nl"><circle cx="1471" cy="288" r="9"/><text class="b" x="1310" y="289" font-size="28" textLength="322" lengthAdjust="spacingAndGlyphs">Thysanopoda orientalis</text></g>
<g id="n-maximum" class="nl"><circle cx="1024" cy="378" r="10"/><text class="b" x="835" y="381" font-size="34" textLength="381" lengthAdjust="spacingAndGlyphs">Stylocheiron maximum</text></g>
<g id="n-gregaria" class="nl"><circle cx="1179" cy="405" r="7"/><text class="r" x="1063" y="408" font-size="21" textLength="231" lengthAdjust="spacingAndGlyphs">Thysanoessa gregaria</text></g>
<g id="n-pectinata" class="nl"><circle cx="1672" cy="407" r="7"/><text class="r" x="1553" y="410" font-size="21" textLength="240" lengthAdjust="spacingAndGlyphs">Thysanopoda pectinata</text></g>
<g id="n-acutifrons" class="nl"><circle cx="1358" cy="434" r="7"/><text class="b" x="1217" y="438" font-size="24" textLength="281" lengthAdjust="spacingAndGlyphs">Thysanopoda acutifrons</text></g>
<g id="n-affine" class="nl"><circle cx="2051" cy="449" r="6"/><text class="r" x="1956" y="453" font-size="21" textLength="190" lengthAdjust="spacingAndGlyphs">Stylocheiron affine</text></g>
<g id="n-gracilis" class="nl"><circle cx="1498" cy="467" r="8"/><text class="b" x="1377" y="470" font-size="24" textLength="248" lengthAdjust="spacingAndGlyphs">Nematoscelis gracilis</text></g>
<g id="n-carinatum" class="nl"><circle cx="1894" cy="481" r="7"/><text class="r" x="1778" y="485" font-size="21" textLength="235" lengthAdjust="spacingAndGlyphs">Stylocheiron carinatum</text></g>
<g id="n-recurva" class="nl"><circle cx="1290" cy="520" r="7"/><text class="b" x="1185" y="523" font-size="24" textLength="214" lengthAdjust="spacingAndGlyphs">Euphausia recurva</text></g>
<g id="n-obtusifrons" class="nl"><circle cx="1613" cy="520" r="8"/><text class="b" x="1467" y="523" font-size="24" textLength="297" lengthAdjust="spacingAndGlyphs">Thysanopoda obtusifrons</text></g>
<g id="n-aequalis" class="nl"><circle cx="1566" cy="550" r="8"/><text class="b" x="1437" y="553" font-size="24" textLength="260" lengthAdjust="spacingAndGlyphs">Thysanopoda aequalis</text></g>
<g id="n-similis" class="nl"><circle cx="1094" cy="587" r="9"/><text class="b" x="882" y="588" font-size="33" textLength="428" lengthAdjust="spacingAndGlyphs">Euphausia similis v. armata</text></g>
<g id="n-hemigibba" class="nl"><circle cx="1421" cy="578" r="8"/><text class="b" x="1300" y="583" font-size="24" textLength="247" lengthAdjust="spacingAndGlyphs">Euphausia hemigibba</text></g>
<g id="n-gibba" class="nl"><circle cx="1989" cy="608" r="6"/><text class="r" x="1904" y="613" font-size="21" textLength="171" lengthAdjust="spacingAndGlyphs">Euphausia gibba</text></g>
<g id="n-flexipes" class="nl"><circle cx="1488" cy="626" r="8"/><text class="b" x="1332" y="628" font-size="27" textLength="316" lengthAdjust="spacingAndGlyphs">Nematobrachion flexipes</text></g>
<g id="n-spinifera" class="nl"><circle cx="1225" cy="656" r="8"/><text class="b" x="1080" y="658" font-size="30" textLength="290" lengthAdjust="spacingAndGlyphs">Euphausia spinifera</text></g>
<g id="n-megalops" class="nl"><circle cx="1102" cy="727" r="8"/><text class="b" x="925" y="728" font-size="31" textLength="350" lengthAdjust="spacingAndGlyphs">Nematoscelis megalops</text></g>
<g id="n-sexspinosum" class="nl"><circle cx="1647" cy="723" r="7"/><text class="r" x="1490" y="727" font-size="21" textLength="317" lengthAdjust="spacingAndGlyphs">Nematobrachion sexspinosum</text></g>
<g id="n-abbreviatum" class="nl"><circle cx="1522" cy="755" r="9"/><text class="b" x="1347" y="757" font-size="29" textLength="354" lengthAdjust="spacingAndGlyphs">Stylocheiron abbreviatum</text></g>
<g id="n-tenella" class="nl"><circle cx="1484" cy="811" r="7"/><text class="r" x="1380" y="813" font-size="21" textLength="210" lengthAdjust="spacingAndGlyphs">Nematoscelis tenella</text></g>
<g id="n-egregia" class="nl"><circle cx="1678" cy="838" r="7"/><text class="r" x="1569" y="843" font-size="21" textLength="222" lengthAdjust="spacingAndGlyphs">Thysanopoda egregia</text></g>
<g id="n-lucens" class="nl"><circle cx="1306" cy="993" r="8"/><text class="b" x="1195" y="997" font-size="26" textLength="225" lengthAdjust="spacingAndGlyphs">Euphausia lucens</text></g>
<g id="n-vallentini" class="ng"><circle cx="871" cy="762" r="12"/><text class="b" x="688" y="760" font-size="38" textLength="370" lengthAdjust="spacingAndGlyphs">Euphausia vallentini</text></g>
<g id="n-macrura" class="nd"><circle cx="503" cy="787" r="11"/><text class="b" x="325" y="789" font-size="34" textLength="364" lengthAdjust="spacingAndGlyphs">Thysanoessa macrura</text></g>
<g id="n-triacantha" class="nd"><circle cx="791" cy="812" r="12"/><text class="b" x="618" y="818" font-size="35" textLength="351" lengthAdjust="spacingAndGlyphs">Euphausia triacantha</text></g>
<g id="n-frigida" class="nd"><circle cx="628" cy="937" r="8"/><text class="b" x="510" y="944" font-size="28" textLength="241" lengthAdjust="spacingAndGlyphs">Euphausia frigida</text></g>
<g id="n-superba" class="nd"><circle cx="238" cy="1106" r="7"/><text class="r" x="139" y="1109" font-size="20" textLength="199" lengthAdjust="spacingAndGlyphs">Euphausia superba</text></g>
</g>
</svg>
